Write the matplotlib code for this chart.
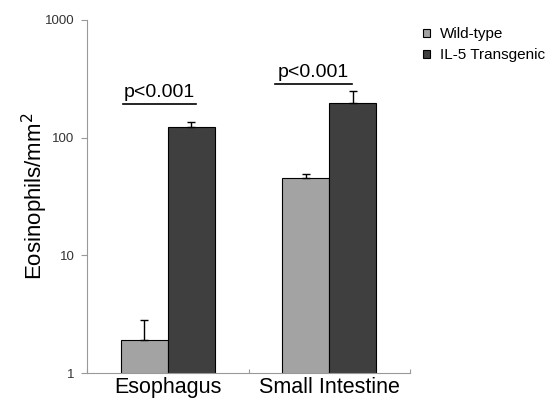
import matplotlib
matplotlib.use("Agg")
import matplotlib.pyplot as plt
import numpy as np

plt.rcParams['font.family'] = ['Liberation Sans', 'DejaVu Sans']

categories = ["Esophagus", "Small Intestine"]
series = ["Wild-type", "IL-5 Transgenic"]
wild_type = [1.9, 45]
wild_type_err = [0.9, 4.5]
transgenic = [124, 198]
transgenic_err = [12, 50]
p_labels = ["p<0.001", "p<0.001"]

fig = plt.figure(figsize=(5.51, 4.03), dpi=100)
ax = fig.add_axes([0.158, 0.0744, 0.586, 0.876])

x = np.arange(len(categories)) + 0.5
w = 0.29
ekw = dict(ecolor="black", capsize=3, elinewidth=1, capthick=1)
ax.bar(x - w/2, wild_type, w, color="#a3a3a3", edgecolor="black", linewidth=0.8,
       yerr=[np.zeros(2), wild_type_err], error_kw=ekw, label=series[0])
ax.bar(x + w/2, transgenic, w, color="#3f3f3f", edgecolor="black", linewidth=0.8,
       yerr=[np.zeros(2), transgenic_err], error_kw=ekw, label=series[1])

ax.set_yscale("log")
ax.set_ylim(1, 1000)
ax.set_xlim(0, 2)
ax.set_yticks([1, 10, 100, 1000])
ax.set_yticklabels(["1", "10", "100", "1000"], fontsize=9.5, color="#333333")
ax.minorticks_off()
ax.set_xticks([0, 1, 2], minor=False)
ax.set_xticklabels([])
ax.set_xticks(x, minor=True)
ax.set_xticklabels(categories, minor=True, fontsize=15.5)
ax.tick_params(axis="x", which="minor", length=0, pad=3)
ax.tick_params(axis="x", which="major", length=3, direction="in", color="#999999")
ax.tick_params(axis="y", length=4, color="#999999", pad=5)

for s in ["top", "right"]:
    ax.spines[s].set_visible(False)
for s in ["left", "bottom"]:
    ax.spines[s].set_color("#999999")
    ax.spines[s].set_linewidth(0.8)

ax.set_ylabel("Eosinophils/mm$^2$", fontsize=16, labelpad=-4)

# significance annotations
p_line_y = [193, 285]
p_text_y = [221, 327]
p_span = [(0.223, 0.675), (1.164, 1.641)]
for (x0, x1), ly, ty, lab in zip(p_span, p_line_y, p_text_y, p_labels):
    ax.plot([x0, x1], [ly, ly], color="black", lw=1.2, clip_on=False)
    ax.text((x0 + x1) / 2, ty, lab, ha="center", va="baseline", fontsize=14)

fig.legend(*ax.get_legend_handles_labels(), loc="upper left",
           bbox_to_anchor=(0.768, 0.932), frameon=False, fontsize=11,
           handlelength=0.45, handleheight=0.45, handletextpad=0.65,
           labelspacing=0.45, borderpad=0, borderaxespad=0)

fig.savefig("out.png", dpi=100)
